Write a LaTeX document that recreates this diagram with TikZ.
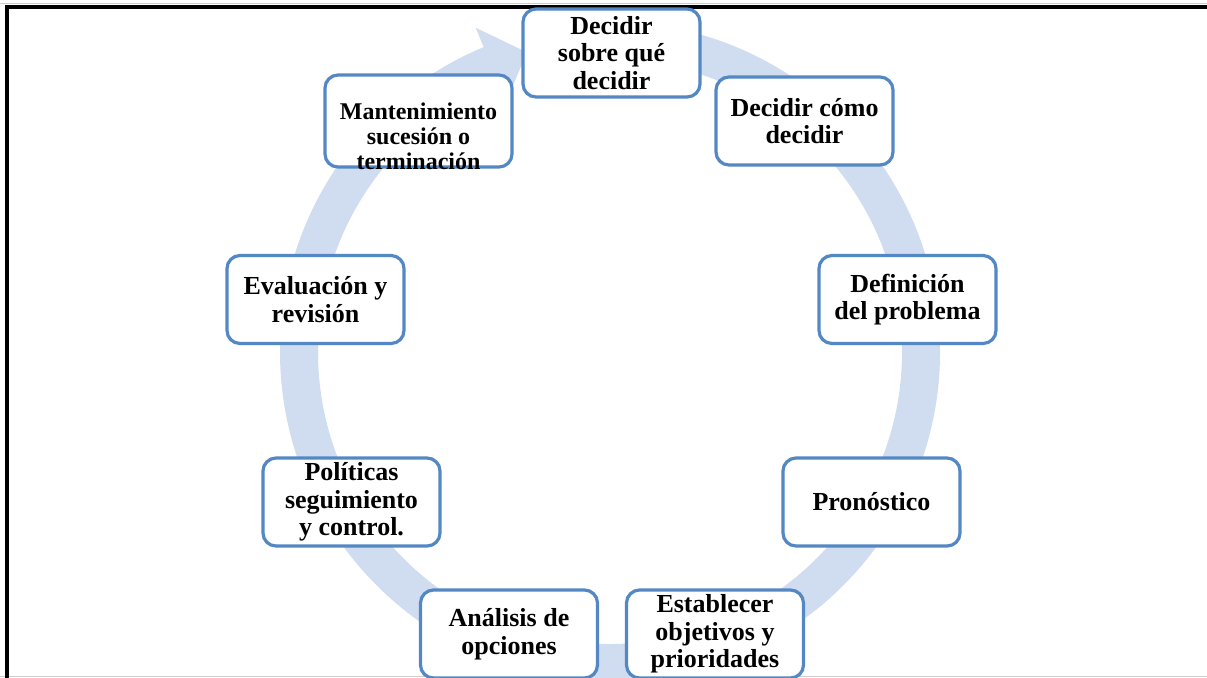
\documentclass[tikz,border=0pt]{standalone}
\usepackage{fontspec}
\setmainfont{Liberation Serif}
\definecolor{ringcol}{RGB}{208,220,239}
\definecolor{boxcol}{RGB}{84,136,196}
\definecolor{edgegrey}{RGB}{205,205,205}
\begin{document}
\begin{tikzpicture}[x=0.5pt, y=-0.5pt,
  stage/.style={draw=boxcol, line width=1.6pt, fill=white, rounded corners=6.5pt,
    minimum width=88.5pt, minimum height=44pt, inner sep=0pt, align=center,
    font=\fontsize{13}{13.8}\selectfont\bfseries},
  stagetext/.style={inner sep=0pt, align=center, font=\fontsize{12}{12.5}\selectfont\bfseries},
  ring/.style={draw=ringcol, line width=19pt},
  frameline/.style={draw=black, line width=2pt},
  greyline/.style={draw=edgegrey, line width=0.6pt}]
\useasboundingbox (0,0) rectangle (1207,677);
\clip (0,0) rectangle (1207,677);
% frame
\draw[greyline] (0,3.5) -- (1207,3.5);
\draw[greyline] (0,676.5) -- (1207,676.5);
\draw[frameline] (7,700) -- (7,7) -- (1250,7);
% cycle ring with arrowhead
\begin{scope}[shift={(610,352)}, x=0.5pt, y=0.5pt]
  \draw[ring] (95:311) arc[start angle=95, end angle=-248, radius=311];
  \fill[ringcol] (112.5:351) -- (105.5:311) -- (112.5:271) -- cycle;
\end{scope}
% stages
\node[stage] (s1) at (611.5,53) {Decidir\\sobre qué\\decidir};
\node[stage] (s2) at (804.5,121) {Decidir cómo\\decidir};
\node[stage] (s3) at (907.5,299.5) {Definición\\del problema};
\node[stage] (s4) at (871.5,502) {Pronóstico};
\node[stage] (s5) at (715,634) {Establecer\\objetivos y\\prioridades};
\node[stage] (s6) at (509,634) {Análisis de\\opciones};
\node[stage] (s7) at (351.5,502) {Políticas\\seguimiento\\y control.};
\node[stage] (s8) at (315.5,299.5) {Evaluación y\\revisión};
\node[stage, minimum width=93.5pt, minimum height=46pt] (s9) at (418.5,121) {};
\node[stagetext] (s9t) at (418.5,136) {Mantenimiento\\sucesión o\\terminación};
\end{tikzpicture}
\end{document}
